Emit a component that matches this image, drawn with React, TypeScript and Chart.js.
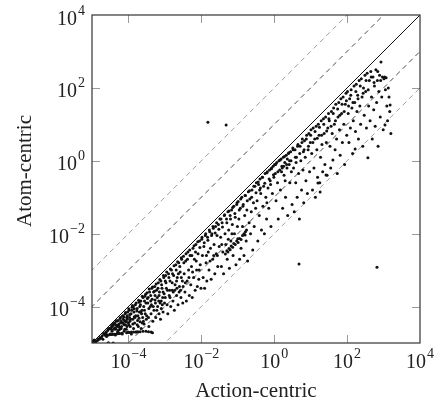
import { useEffect, useRef } from 'react';
import { Chart, registerables } from 'chart.js';

Chart.register(...registerables);

// axis range in decades
const axisMinExp = -5;
const axisMaxExp = 4;
const xTickExponents = [-4, -2, 0, 2, 4];
const yTickExponents = [-4, -2, 0, 2, 4];
const xTitle = 'Action-centric';
const yTitle = 'Atom-centric';
// reference lines y = x * 10^k
const darkRefOffsets = [1, -1];
const lightRefOffsets = [2, -2];

// points, stored as [log10(action), log10(atom)]
const cornerBand: [number, number][] = [
  [-4.98, -4.97], [-4.96, -4.99], [-4.94, -4.92], [-4.99, -4.95], [-4.9, -4.96], [-4.55, -4.99], [-4.42, -5.0],
  [-4.9, -4.98], [-4.85, -4.93], [-4.8, -4.9], [-4.78, -4.85], [-4.72, -4.8], [-4.7, -4.9], [-4.66, -4.75],
  [-4.62, -4.7], [-4.6, -4.82], [-4.57, -4.66], [-4.55, -4.62], [-4.52, -4.6], [-4.5, -4.75], [-4.48, -4.58],
  [-4.46, -4.52], [-4.45, -4.68],
];
const nearDiagonal: [number, number][] = [
  [-4.83, -4.9], [-4.74, -4.86], [-4.68, -4.74], [-4.61, -4.72], [-4.53, -4.6], [-4.47, -4.62], [-4.41, -4.47],
  [-4.37, -4.58], [-4.32, -4.39], [-4.29, -4.52], [-4.23, -4.33], [-4.21, -4.44], [-4.16, -4.26], [-4.11, -4.38],
  [-4.08, -4.16], [-4.03, -4.25], [-3.99, -4.06], [-3.96, -4.22], [-3.91, -4.1], [-3.89, -3.97], [-3.84, -4.06],
  [-3.79, -3.9], [-3.77, -4.12], [-3.72, -3.83], [-3.67, -3.95], [-3.62, -3.72], [-3.56, -3.85], [-3.53, -3.66],
  [-3.48, -3.78], [-3.43, -3.52], [-3.39, -3.7], [-3.34, -3.46], [-3.29, -3.58], [-3.24, -3.38], [-3.19, -3.5],
  [-3.14, -3.26], [-3.09, -3.4], [-3.04, -3.15], [-2.99, -3.3], [-2.95, -3.05], [-2.89, -3.2], [-2.85, -2.97],
  [-2.79, -3.1], [-2.75, -2.88], [-2.69, -3.0], [-2.65, -2.77], [-2.59, -2.9], [-2.55, -2.66], [-2.48, -2.8],
  [-2.42, -2.55], [-2.38, -2.7], [-2.32, -2.45], [-2.26, -2.6], [-2.2, -2.33], [-2.16, -2.5], [-2.1, -2.22],
  [-2.04, -2.38], [-1.98, -2.1], [-1.92, -2.25], [-1.88, -2.0], [-1.82, -2.18], [-1.78, -1.9], [-1.72, -2.05],
  [-1.68, -1.8], [-1.62, -1.98], [-1.58, -1.7], [-1.52, -1.88], [-1.46, -1.6], [-1.42, -1.82], [-1.36, -1.48],
  [-1.3, -1.7], [-1.24, -1.38], [-1.2, -1.6], [-1.14, -1.28], [-1.08, -1.45], [-1.02, -1.15], [-0.96, -1.35],
  [-0.92, -1.05], [-0.86, -1.25], [-0.8, -0.95], [-0.74, -1.1], [-0.68, -0.82], [-0.62, -1.0], [-0.56, -0.7],
  [-0.5, -0.88], [-0.44, -0.58], [-0.38, -0.75], [-0.32, -0.45], [-0.26, -0.62], [-0.2, -0.33], [-0.14, -0.5],
  [-0.08, -0.22], [-0.02, -0.38], [0.04, -0.1], [0.1, -0.3], [0.16, 0.02], [0.22, -0.2], [0.28, 0.12],
  [0.34, -0.1], [0.4, 0.22], [0.46, 0.0], [0.52, 0.3], [0.58, 0.1], [0.64, 0.4], [0.7, 0.2], [0.76, 0.5],
  [0.82, 0.3], [0.88, 0.6], [0.94, 0.4], [1.0, 0.7], [1.06, 0.5], [1.12, 0.8], [1.18, 0.62], [1.24, 0.92],
  [1.3, 0.7], [1.36, 1.0], [1.44, 0.82], [1.5, 1.15], [1.56, 0.95], [1.62, 1.3], [1.68, 1.1], [1.74, 1.42],
  [1.8, 1.25], [1.86, 1.55], [1.92, 1.35], [1.98, 1.65], [2.04, 1.5], [2.1, 1.8], [2.16, 1.6], [2.24, 1.9],
  [2.3, 1.7], [2.36, 2.05], [2.44, 1.85], [2.52, 2.2], [2.58, 1.95], [2.66, 2.3], [2.74, 2.15], [2.84, 2.45],
  [2.92, 2.2],
];
const denseLow: [number, number][] = [
  [-4.34, -4.62], [-4.27, -4.5], [-4.2, -4.6], [-4.14, -4.45], [-4.06, -4.42], [-3.99, -4.5], [-3.94, -4.35],
  [-3.88, -4.48], [-3.82, -4.3], [-3.76, -4.5], [-3.71, -4.32], [-3.66, -4.15], [-3.62, -4.45], [-3.56, -4.1],
  [-3.5, -4.25], [-3.44, -4.05], [-3.39, -3.85], [-3.32, -4.0], [-3.27, -3.82], [-3.22, -4.1], [-3.16, -3.7],
  [-3.1, -3.85], [-3.05, -3.6], [-2.99, -3.75], [-2.93, -3.55], [-2.86, -3.75], [-2.8, -3.35], [-2.73, -3.55],
  [-2.68, -3.3], [-2.61, -3.6], [-2.55, -3.2], [-2.5, -3.45],
];
const bandA: [number, number][] = [
  [-4.42, -4.5], [-4.4, -4.62], [-4.38, -4.45], [-4.36, -4.78], [-4.33, -4.4], [-4.31, -4.55], [-4.3, -4.7],
  [-4.28, -4.38], [-4.26, -4.48], [-4.24, -4.62], [-4.22, -4.3], [-4.2, -4.4], [-4.19, -4.55], [-4.17, -4.75],
  [-4.15, -4.25], [-4.14, -4.35], [-4.12, -4.5], [-4.1, -4.62], [-4.09, -4.2], [-4.07, -4.4], [-4.05, -4.3],
  [-4.04, -4.55], [-4.02, -4.15], [-4.01, -4.7], [-4.0, -4.45], [-4.35, -4.5], [-4.25, -4.56], [-4.18, -4.45],
  [-4.08, -4.5], [-4.03, -4.35], [-4.44, -4.55], [-4.27, -4.65], [-4.13, -4.28], [-4.06, -4.62],
  [-3.98, -4.1], [-3.97, -4.3], [-3.95, -4.55], [-3.93, -4.2], [-3.92, -4.75], [-3.9, -4.02], [-3.88, -4.35],
  [-3.86, -4.6], [-3.85, -4.15], [-3.83, -4.45], [-3.81, -3.95], [-3.8, -4.25], [-3.78, -4.7], [-3.76, -4.05],
  [-3.75, -4.38], [-3.73, -4.55], [-3.71, -3.88], [-3.7, -4.15], [-3.68, -4.42], [-3.66, -3.85], [-3.65, -4.6],
  [-3.63, -4.1], [-3.61, -4.3], [-3.6, -3.75], [-3.58, -4.0], [-3.57, -4.48], [-3.55, -3.72], [-3.54, -4.2],
  [-3.52, -3.9], [-3.51, -4.35], [-3.96, -4.4], [-3.84, -4.28], [-3.74, -4.25], [-3.64, -4.2], [-3.59, -4.4],
  [-3.87, -4.0], [-3.69, -4.0],
];
const bandB: [number, number][] = [
  [-3.49, -3.62], [-3.47, -3.9], [-3.45, -4.3], [-3.44, -4.55], [-3.42, -3.6], [-3.4, -4.0], [-3.38, -4.2],
  [-3.36, -3.5], [-3.35, -3.8], [-3.33, -4.4], [-3.31, -3.6], [-3.3, -4.1], [-3.28, -3.45], [-3.26, -3.9],
  [-3.25, -4.3], [-3.23, -3.55], [-3.21, -3.75], [-3.2, -4.0], [-3.18, -3.35], [-3.16, -4.2], [-3.15, -3.6],
  [-3.13, -3.9], [-3.11, -3.3], [-3.1, -4.05], [-3.08, -3.5], [-3.06, -3.75], [-3.05, -4.15], [-3.03, -3.2],
  [-3.02, -3.65], [-3.01, -3.9], [-3.46, -3.75], [-3.37, -3.95], [-3.27, -3.7], [-3.17, -3.85], [-3.07, -3.95],
  [-3.12, -4.35],
  [-2.98, -3.15], [-2.96, -3.5], [-2.94, -3.95], [-2.92, -4.2], [-2.9, -3.1], [-2.88, -3.7], [-2.86, -3.3],
  [-2.84, -4.0], [-2.82, -3.0], [-2.8, -3.55], [-2.78, -3.85], [-2.76, -3.15], [-2.74, -4.1], [-2.72, -3.4],
  [-2.7, -2.85], [-2.68, -3.7], [-2.66, -3.2], [-2.64, -3.95], [-2.62, -2.8], [-2.6, -3.45], [-2.58, -3.05],
  [-2.56, -3.75], [-2.54, -2.7], [-2.52, -3.3], [-2.51, -3.9], [-2.97, -3.35], [-2.87, -3.55], [-2.77, -3.6],
  [-2.67, -3.5], [-2.57, -3.55], [-2.63, -3.1],
];
const bandC: [number, number][] = [
  [-2.49, -2.62], [-2.47, -3.1], [-2.45, -3.6], [-2.43, -2.75], [-2.41, -3.85], [-2.39, -3.3], [-2.37, -2.5],
  [-2.35, -3.0], [-2.33, -3.7], [-2.31, -2.6], [-2.29, -3.4], [-2.27, -2.9], [-2.25, -3.75], [-2.23, -2.4],
  [-2.21, -3.2], [-2.19, -2.7], [-2.17, -3.55], [-2.15, -2.3], [-2.13, -3.0], [-2.11, -3.45], [-2.09, -2.55],
  [-2.07, -3.25], [-2.05, -2.2], [-2.03, -2.85], [-2.01, -3.5], [-2.44, -3.35], [-2.34, -3.2], [-2.24, -3.05],
  [-2.14, -2.75], [-2.06, -3.0],
  [-1.99, -2.15], [-1.97, -2.6], [-1.95, -3.2], [-1.93, -2.35], [-1.91, -3.5], [-1.89, -2.05], [-1.87, -2.8],
  [-1.85, -3.3], [-1.83, -2.1], [-1.81, -2.5], [-1.79, -3.0], [-1.77, -1.95], [-1.75, -2.4], [-1.73, -3.25],
  [-1.71, -2.0], [-1.69, -2.7], [-1.67, -1.85], [-1.65, -2.3], [-1.63, -3.1], [-1.61, -1.8], [-1.59, -2.55],
  [-1.57, -2.05], [-1.55, -2.9], [-1.53, -1.75], [-1.51, -2.35], [-1.86, -2.6], [-1.76, -2.75], [-1.66, -2.6],
  [-1.56, -2.6],
];
const bandD: [number, number][] = [
  [-1.49, -1.6], [-1.47, -2.1], [-1.45, -2.9], [-1.43, -1.7], [-1.41, -2.5], [-1.39, -3.1], [-1.37, -1.5],
  [-1.35, -2.0], [-1.33, -2.3], [-1.31, -1.6], [-1.29, -2.7], [-1.27, -1.4], [-1.25, -1.9], [-1.23, -2.95],
  [-1.21, -1.5], [-1.19, -2.2], [-1.17, -1.35], [-1.15, -1.75], [-1.13, -2.6], [-1.11, -1.25], [-1.09, -2.0],
  [-1.07, -1.55], [-1.05, -2.85], [-1.03, -1.2], [-1.01, -1.8], [-1.44, -2.3], [-1.26, -2.15], [-1.16, -2.0],
  [-0.99, -1.12], [-0.97, -1.6], [-0.95, -2.7], [-0.93, -1.3], [-0.91, -2.4], [-0.89, -1.0], [-0.87, -1.8],
  [-0.85, -1.2], [-0.83, -2.6], [-0.81, -1.5], [-0.79, -0.95], [-0.77, -2.2], [-0.75, -1.35], [-0.73, -2.75],
  [-0.71, -0.85], [-0.69, -1.7], [-0.67, -1.05], [-0.65, -2.0], [-0.63, -1.4], [-0.61, -0.8], [-0.59, -2.45],
  [-0.57, -1.15], [-0.55, -1.8], [-0.53, -0.7], [-0.51, -1.3],
];
const midStreak: [number, number][] = [
  [-1.34, -2.56], [-1.3, -2.47], [-1.27, -2.5], [-1.24, -2.41], [-1.21, -2.44], [-1.18, -2.34], [-1.14, -2.37],
  [-1.11, -2.27], [-1.07, -2.3], [-1.03, -2.2], [-0.99, -2.24], [-0.95, -2.13], [-0.91, -2.16], [-0.87, -2.05],
  [-0.83, -2.0], [-0.79, -1.95], [-0.76, -1.9], [-0.8, -2.04], [-1.0, -2.14],
];
const bandE: [number, number][] = [
  [-0.49, -0.6], [-0.47, -1.1], [-0.45, -2.2], [-0.43, -0.65], [-0.41, -1.5], [-0.39, -0.5], [-0.37, -0.9],
  [-0.35, -1.9], [-0.33, -0.45], [-0.31, -1.25], [-0.29, -0.7], [-0.27, -2.0], [-0.25, -0.35], [-0.23, -1.0],
  [-0.21, -1.6], [-0.19, -0.3], [-0.17, -0.75], [-0.15, -1.3], [-0.13, -0.25], [-0.11, -0.55], [-0.09, -1.8],
  [-0.07, -0.2], [-0.05, -0.9], [-0.03, -0.15], [-0.01, -0.45], [-0.4, -0.8], [-0.2, -1.15], [-0.1, -0.65],
  [0.01, -0.1], [0.03, -0.35], [0.05, -1.1], [0.07, -0.05], [0.09, -0.6], [0.11, -1.6], [0.13, 0.0],
  [0.15, -0.25], [0.17, -0.8], [0.19, 0.05], [0.21, -0.15], [0.23, -1.3], [0.25, 0.1], [0.27, -0.4],
  [0.29, -0.05], [0.31, -1.0], [0.33, 0.15], [0.35, -0.2], [0.37, -1.5], [0.39, 0.2], [0.41, -0.1],
  [0.43, -0.6], [0.45, 0.25], [0.47, -0.3], [0.49, -1.2], [0.2, -0.3], [0.3, -0.55], [0.36, 0.05],
  [0.42, 0.0], [0.26, -0.15],
];
const bandF: [number, number][] = [
  [0.51, 0.35], [0.53, -0.2], [0.55, -1.4], [0.57, 0.3], [0.59, -0.6], [0.61, 0.1], [0.63, -1.0], [0.65, 0.45],
  [0.67, -0.35], [0.69, -1.6], [0.71, 0.4], [0.73, 0.0], [0.75, -0.8], [0.77, 0.6], [0.79, -0.25], [0.81, -1.15],
  [0.83, 0.55], [0.85, 0.1], [0.87, -0.55], [0.89, 0.7], [0.91, -0.9], [0.93, 0.3], [0.95, 0.75], [0.97, -0.3],
  [0.99, 0.5], [0.6, -0.05], [0.8, 0.25],
  [1.01, 0.85], [1.03, 0.2], [1.05, -0.8], [1.07, 0.9], [1.09, -0.2], [1.11, 0.6], [1.13, -1.0], [1.15, 0.95],
  [1.17, 0.3], [1.19, -0.45], [1.21, 1.0], [1.23, 0.7], [1.25, -0.6], [1.27, 0.1], [1.29, 1.1], [1.31, 0.45],
  [1.33, -0.3], [1.35, 1.15], [1.37, 0.75], [1.39, -0.1], [1.41, 1.2], [1.43, 0.5], [1.45, -0.4], [1.47, 0.9],
  [1.49, 1.3], [1.26, -0.86], [1.2, -0.61], [1.42, -0.39],
];
const bandG: [number, number][] = [
  [1.51, 1.1], [1.53, 0.4], [1.55, -0.2], [1.57, 1.35], [1.59, 0.75], [1.61, 0.02], [1.63, 1.45], [1.65, 1.0],
  [1.67, 0.3], [1.69, 1.55], [1.71, 0.6], [1.73, -0.35], [1.75, 1.2], [1.77, 1.6], [1.79, 0.85], [1.81, 0.15],
  [1.83, 1.7], [1.85, 1.3], [1.87, 0.5], [1.89, 1.75], [1.91, 1.0], [1.93, -0.1], [1.95, 1.55], [1.97, 1.85],
  [1.99, 0.7],
  [2.01, 1.9], [2.03, 1.3], [2.05, 0.5], [2.07, 1.7], [2.09, 0.9], [2.11, 1.95], [2.13, 1.45], [2.15, 0.2],
  [2.17, 1.1], [2.19, 2.05], [2.21, 1.6], [2.22, 0.32], [2.23, 0.8], [2.25, 2.1], [2.27, 1.35], [2.29, 1.8],
  [2.31, 0.6], [2.33, 2.2], [2.35, 1.5], [2.37, 1.0], [2.39, 2.25], [2.41, 1.75], [2.43, 0.4], [2.45, 2.0],
  [2.47, 1.25], [2.49, 2.35],
];
const bandH: [number, number][] = [
  [2.51, 1.9], [2.53, 0.9], [2.55, 2.4], [2.57, 0.08], [2.59, 1.5], [2.61, 2.2], [2.63, 1.1], [2.65, 2.45],
  [2.67, 1.75], [2.69, 0.6], [2.71, 2.3], [2.73, 1.4], [2.75, 2.05], [2.77, 0.95], [2.79, 2.5], [2.81, 1.6],
  [2.83, 2.2], [2.85, 0.4], [2.87, 1.9], [2.89, 2.35], [2.91, 1.2], [2.93, 2.71], [2.95, 1.75], [2.97, 2.3],
  [2.99, 0.85],
  [3.01, 2.25], [3.03, 2.3], [3.04, 0.98], [3.05, 1.95], [3.07, 2.28], [3.09, 1.5], [3.11, 1.1], [3.13, 2.0],
  [3.15, 1.75], [3.17, 1.35], [3.18, 1.53], [3.2, 0.75],
];
const bottomStreak: [number, number][] = [
  [-4.64, -4.79], [-4.6, -4.78], [-4.55, -4.78], [-4.5, -4.77], [-4.46, -4.77], [-4.42, -4.76], [-4.38, -4.76],
  [-4.33, -4.75], [-4.28, -4.74], [-4.24, -4.74], [-4.18, -4.73], [-4.12, -4.68], [-4.05, -4.72], [-3.98, -4.71],
  [-3.92, -4.7], [-3.86, -4.7], [-3.8, -4.7], [-3.74, -4.69], [-3.68, -4.69], [-3.6, -4.68], [-3.52, -4.68],
  [-3.45, -4.69], [-3.38, -4.7], [-3.34, -4.72],
];
const outliers: [number, number][] = [
  [-1.82, 1.06], [-1.32, 0.98], [0.68, -2.83], [2.82, -2.92],
];

const FONT = '"Liberation Serif", "Times New Roman", serif';

function drawPower(ctx: CanvasRenderingContext2D, exp: number, x: number, y: number, align: 'center' | 'right') {
  const base = '10';
  const sup = exp < 0 ? '\u2212' + Math.abs(exp) : String(exp);
  ctx.font = `20px ${FONT}`;
  const wb = ctx.measureText(base).width;
  ctx.font = `14px ${FONT}`;
  const ws = ctx.measureText(sup).width;
  const w = wb + 1 + ws;
  const left = align === 'center' ? x - w / 2 : x - w;
  ctx.textAlign = 'left';
  ctx.textBaseline = 'alphabetic';
  ctx.font = `20px ${FONT}`;
  ctx.fillText(base, left, y);
  ctx.font = `14px ${FONT}`;
  ctx.fillText(sup, left + wb + 1, y - 10);
}

const framePlugin = {
  id: 'frameAndLabels',
  afterDatasetsDraw(chart: any) {
    const ctx: CanvasRenderingContext2D = chart.ctx;
    const { left, right, top, bottom } = chart.chartArea;
    const xs = chart.scales.x;
    const ys = chart.scales.y;
    ctx.save();
    // ticks (inside, mirrored)
    ctx.strokeStyle = '#9a9a9a';
    ctx.lineWidth = 1;
    const tl = 8;
    ctx.beginPath();
    xTickExponents.forEach((e) => {
      const px = Math.round(xs.getPixelForValue(Math.pow(10, e))) + 0.5;
      if (px > left + 1 && px < right - 1) {
        ctx.moveTo(px, bottom); ctx.lineTo(px, bottom - tl);
        ctx.moveTo(px, top); ctx.lineTo(px, top + tl);
      }
    });
    yTickExponents.forEach((e) => {
      const py = Math.round(ys.getPixelForValue(Math.pow(10, e))) + 0.5;
      if (py > top + 1 && py < bottom - 1) {
        ctx.moveTo(left, py); ctx.lineTo(left + tl, py);
        ctx.moveTo(right, py); ctx.lineTo(right - tl, py);
      }
    });
    ctx.stroke();
    // frame
    ctx.strokeStyle = '#333';
    ctx.lineWidth = 1.2;
    ctx.strokeRect(left, top, right - left, bottom - top);
    // tick labels
    ctx.fillStyle = '#222';
    xTickExponents.forEach((e) => {
      const px = xs.getPixelForValue(Math.pow(10, e));
      drawPower(ctx, e, px, bottom + 25, 'center');
    });
    yTickExponents.forEach((e) => {
      const py = ys.getPixelForValue(Math.pow(10, e));
      drawPower(ctx, e, left - 7, py + 9.5, 'right');
    });
    // axis titles
    ctx.font = `21px ${FONT}`;
    ctx.textAlign = 'center';
    ctx.textBaseline = 'alphabetic';
    ctx.fillText(xTitle, (left + right) / 2, 397);
    ctx.translate(31, 171);
    ctx.rotate(-Math.PI / 2);
    ctx.fillText(yTitle, 0, 0);
    ctx.restore();
  },
};

function refLine(k: number) {
  const lo = axisMinExp - 3;
  const hi = axisMaxExp + 3;
  return [
    { x: Math.pow(10, lo), y: Math.pow(10, lo + k) },
    { x: Math.pow(10, hi), y: Math.pow(10, hi + k) },
  ];
}

const allPoints = [
  ...cornerBand, ...nearDiagonal, ...denseLow, ...bandA, ...bandB, ...bandC, ...bandD, ...midStreak,
  ...bandE, ...bandF, ...bandG, ...bandH, ...bottomStreak, ...outliers,
].map(([lx, ly]) => ({ x: Math.pow(10, lx), y: Math.pow(10, ly) }));

export default function App() {
  const ref = useRef<HTMLCanvasElement | null>(null);
  useEffect(() => {
    if (!ref.current) return;
    const datasets: any[] = [
      {
        label: 'runs',
        data: allPoints,
        pointRadius: 1.5,
        pointBackgroundColor: '#111',
        pointBorderWidth: 0,
        order: 0,
      },
      {
        label: 'y=x',
        data: refLine(0),
        showLine: true,
        borderColor: '#111',
        borderWidth: 1,
        pointRadius: 0,
        order: 1,
      },
      ...darkRefOffsets.map((k) => ({
        label: `dark ${k}`,
        data: refLine(k),
        showLine: true,
        borderColor: '#4a4a4a',
        borderWidth: 1,
        borderDash: [5, 4],
        pointRadius: 0,
        order: 2,
      })),
      ...lightRefOffsets.map((k) => ({
        label: `light ${k}`,
        data: refLine(k),
        showLine: true,
        borderColor: '#9e9e9e',
        borderWidth: 1,
        borderDash: [5, 4],
        pointRadius: 0,
        order: 3,
      })),
    ];
    const chart = new Chart(ref.current, {
      type: 'scatter',
      data: { datasets },
      options: {
        animation: false,
        responsive: false,
        maintainAspectRatio: false,
        layout: { padding: { left: 92, right: 15, top: 15, bottom: 60 } },
        plugins: { legend: { display: false }, tooltip: { enabled: false } },
        events: [],
        scales: {
          x: { type: 'logarithmic', min: Math.pow(10, axisMinExp), max: Math.pow(10, axisMaxExp), display: false },
          y: { type: 'logarithmic', min: Math.pow(10, axisMinExp), max: Math.pow(10, axisMaxExp), display: false },
        },
      },
      plugins: [framePlugin],
    });
    return () => chart.destroy();
  }, []);
  return (
    <div style={{ position: 'absolute', left: 0, top: 0, width: 435, height: 403, background: '#fff' }}>
      <canvas ref={ref} width={435} height={403} style={{ width: 435, height: 403 }} />
    </div>
  );
}
